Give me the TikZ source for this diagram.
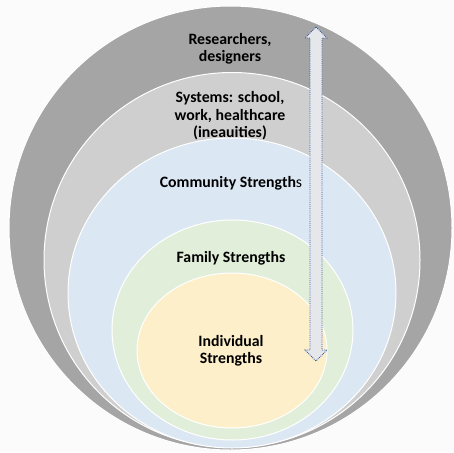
\documentclass[tikz,border=0pt]{standalone}
\usepackage{fontspec}
\setmainfont{Carlito}
\usepackage{tikz}
\usetikzlibrary{positioning}
\definecolor{fond}{HTML}{FBFBFB}
\definecolor{grisfonce}{HTML}{A5A5A5}
\definecolor{grisclair}{HTML}{CFCFCF}
\definecolor{bleu}{HTML}{DCE7F4}
\definecolor{vert}{HTML}{E1EEDA}
\definecolor{jaune}{HTML}{FCEFC9}
\definecolor{fleche}{HTML}{E6E7EA}
\definecolor{pointille}{HTML}{3A5DA6}

\begin{document}
\begin{tikzpicture}[x=1pt,y=-1pt]%
        %\draw[step=50,color=gray,very thin] (0,0) grid (454,452);%%
        \useasboundingbox[fill=fond] (0,0) rectangle (454,452);%%
        \begin{scope}[draw=white,line width=1pt]
        \filldraw[fill=grisfonce] (230.5,228) ellipse [x radius=221.5pt,y radius=222pt];%%
        \filldraw[fill=grisclair] (232,260) ellipse [x radius=188pt,y radius=187.5pt];%%
        \filldraw[fill=bleu] (232,293) ellipse [x radius=164pt,y radius=155pt];%%
        \filldraw[fill=vert] (232.5,330) ellipse [x radius=120.5pt,y radius=110pt];%%
        \filldraw[fill=jaune] (232,350.5) ellipse [x radius=95pt,y radius=77.5pt];%%
        \end{scope}
        \begin{scope}
        \tikzstyle{every node}=[align=center,inner sep=0pt,font=\fontsize{15.8}{17.5}\selectfont\bfseries] %%
        \node (res) at (230,49)  {Researchers,\\designers}; %%
        \node (sys) at (230,116)  {Systems: school,\\work, healthcare\\(ineauities)}; %%
        \node (com) at (231,183)  {Community Strength{\mdseries s}}; %%
        \node (fam) at (231,258)  {Family Strengths}; %%
        \node (ind) at (231,351)  {Individual\\Strengths}; %%
        \end{scope}
        \coordinate (haut) at (316,27); %%
        \coordinate (bas) at (316,361); %%
        \filldraw[fill=fleche,draw=pointille,densely dotted,line width=.9pt] (haut)--++(11,11)--++(-5,0)--++(0,312)--++(5,0)--(bas)--++(-11,-11)--++(5,0)--++(0,-312)--++(-5,0)--cycle; %%
\end{tikzpicture}
\end{document}
